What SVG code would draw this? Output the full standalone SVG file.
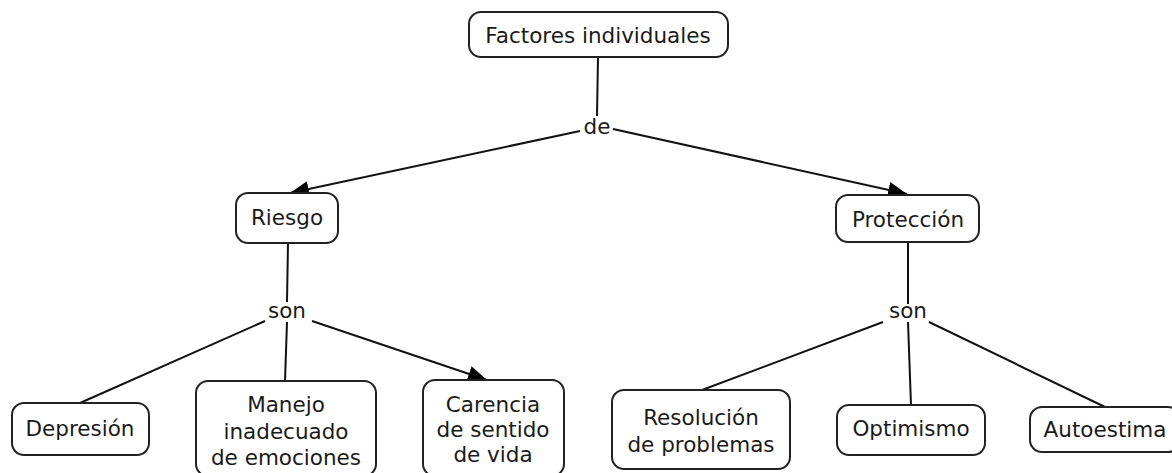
<svg xmlns="http://www.w3.org/2000/svg" width="1172" height="473" viewBox="0 0 1172 473">
<defs>
<style>
.box{fill:#fff;stroke:#222;stroke-width:2}
.t{font-family:"DejaVu Sans",Verdana,sans-serif;font-size:21.5px;fill:#1a1a1a;text-anchor:middle}
.c{stroke:#111;stroke-width:2;fill:none}
</style>
<marker id="ah" markerUnits="userSpaceOnUse" markerWidth="22" markerHeight="18" refX="19" refY="8" orient="auto">
<path d="M0,0 L19,8 L0,16 z" fill="#000"/>
</marker>
</defs>
<rect width="1172" height="473" fill="#fff"/>
<g id="connectors">
<line class="c" x1="598" y1="57" x2="597" y2="116"/>
<line class="c" x1="580" y1="131" x2="290" y2="193" marker-end="url(#ah)"/>
<line class="c" x1="613" y1="129" x2="907" y2="194" marker-end="url(#ah)"/>
<line class="c" x1="288" y1="243" x2="287" y2="302"/>
<line class="c" x1="265" y1="321" x2="80" y2="403"/>
<line class="c" x1="287" y1="322" x2="285" y2="381"/>
<line class="c" x1="312" y1="321" x2="487" y2="380" marker-end="url(#ah)"/>
<line class="c" x1="908" y1="242" x2="908" y2="304"/>
<line class="c" x1="883" y1="322" x2="702" y2="390"/>
<line class="c" x1="908" y1="322" x2="911" y2="405"/>
<line class="c" x1="929" y1="322" x2="1105" y2="407"/>
</g>
<g id="lbl-de"><text class="t" x="597" y="134">de</text></g>
<g id="lbl-son1"><text class="t" x="287" y="318">son</text></g>
<g id="lbl-son2"><text class="t" x="908" y="318">son</text></g>
<g id="n-factores">
<rect class="box" x="469" y="12" width="259" height="45" rx="12"/>
<text class="t" x="598" y="43">Factores individuales</text>
</g>
<g id="n-riesgo">
<rect class="box" x="236" y="193" width="102" height="50" rx="12"/>
<text class="t" x="287" y="225">Riesgo</text>
</g>
<g id="n-proteccion">
<rect class="box" x="836" y="195" width="143" height="47" rx="12"/>
<text class="t" x="908" y="227">Protección</text>
</g>
<g id="n-depresion">
<rect class="box" x="12" y="403" width="137" height="52" rx="12"/>
<text class="t" x="80" y="436">Depresión</text>
</g>
<g id="n-manejo">
<rect class="box" x="196" y="381" width="180" height="95" rx="12"/>
<text class="t" x="286" y="412">Manejo</text>
<text class="t" x="286" y="439">inadecuado</text>
<text class="t" x="286" y="465">de emociones</text>
</g>
<g id="n-carencia">
<rect class="box" x="423" y="380" width="141" height="96" rx="12"/>
<text class="t" x="493" y="412">Carencia</text>
<text class="t" x="493" y="437">de sentido</text>
<text class="t" x="493" y="462">de vida</text>
</g>
<g id="n-resolucion">
<rect class="box" x="612" y="390" width="178" height="79" rx="12"/>
<text class="t" x="701" y="425">Resolución</text>
<text class="t" x="701" y="452">de problemas</text>
</g>
<g id="n-optimismo">
<rect class="box" x="837" y="405" width="148" height="50" rx="12"/>
<text class="t" x="911" y="436">Optimismo</text>
</g>
<g id="n-autoestima">
<rect class="box" x="1030" y="407" width="150" height="45" rx="12"/>
<text class="t" x="1105" y="437">Autoestima</text>
</g>
</svg>
